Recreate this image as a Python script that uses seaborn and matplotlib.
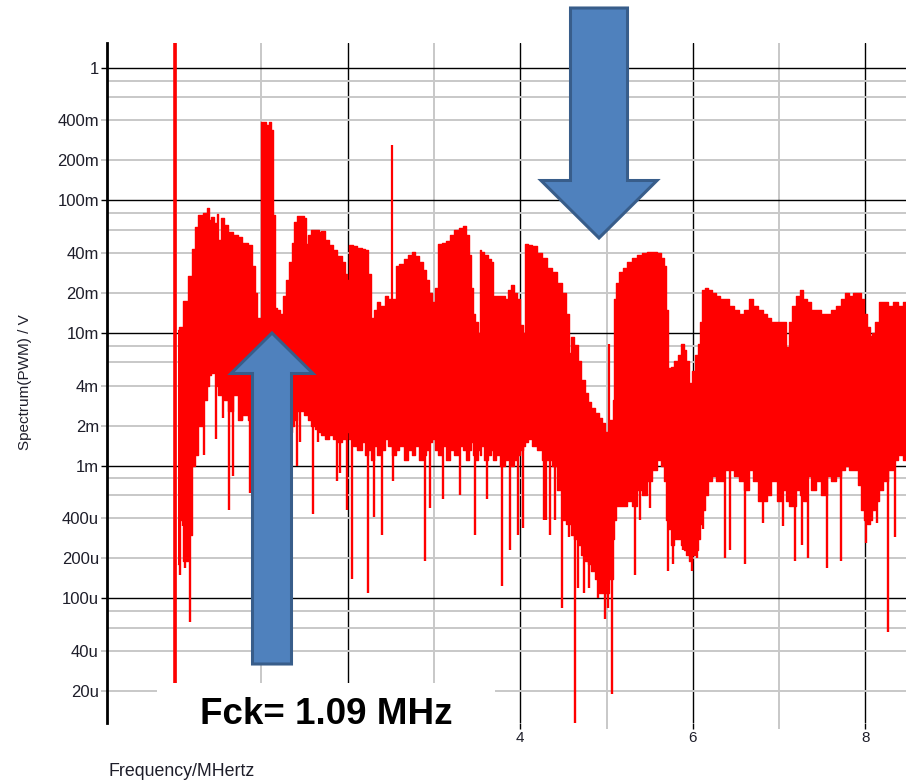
import numpy as np
import pandas as pd
import matplotlib
matplotlib.use("Agg")
import matplotlib.pyplot as plt
import seaborn as sns
from matplotlib.patches import Polygon, Rectangle
from matplotlib.ticker import FixedLocator, FixedFormatter

# ---------------- data ----------------
freq_mhz = [0.03, 0.06, 0.12, 0.18, 0.21, 0.25, 0.29, 0.35, 0.38, 0.41, 0.43, 0.47, 0.49, 0.51, 0.55,
            0.59, 0.63, 0.71, 0.75, 0.81, 0.87, 0.91, 0.94, 0.96, 0.99, 1.00, 1.03, 1.07, 1.10, 1.12,
            1.15, 1.17, 1.19, 1.23, 1.26, 1.30, 1.33, 1.37, 1.39, 1.43, 1.47, 1.51, 1.53, 1.55, 1.60,
            1.65, 1.68, 1.71, 1.76, 1.80, 1.85, 1.91, 1.95, 1.98, 2.00, 2.04, 2.08, 2.14, 2.19, 2.22,
            2.26, 2.29, 2.33, 2.35, 2.41, 2.45, 2.49, 2.54, 2.57, 2.63, 2.67, 2.72, 2.76, 2.80, 2.86,
            2.89, 2.93, 2.96, 2.99, 3.03, 3.07, 3.11, 3.16, 3.21, 3.26, 3.31, 3.36, 3.39, 3.41, 3.44,
            3.46, 3.49, 3.52, 3.54, 3.56, 3.61, 3.64, 3.67, 3.69, 3.74, 3.80, 3.84, 3.88, 3.91, 3.95,
            3.98, 4.02, 4.05, 4.07, 4.12, 4.16, 4.22, 4.28, 4.34, 4.40, 4.46, 4.51, 4.55, 4.57, 4.60,
            4.64, 4.69, 4.72, 4.77, 4.80, 4.85, 4.89, 4.93, 4.96, 5.00, 5.06, 5.08, 5.10, 5.12, 5.16,
            5.21, 5.26, 5.32, 5.38, 5.44, 5.50, 5.55, 5.61, 5.66, 5.68, 5.70, 5.73, 5.76, 5.81, 5.85,
            5.88, 5.91, 5.94, 5.97, 6.01, 6.04, 6.07, 6.10, 6.12, 6.15, 6.20, 6.24, 6.29, 6.33, 6.39,
            6.45, 6.50, 6.56, 6.63, 6.67, 6.73, 6.79, 6.84, 6.88, 6.94, 7.00, 7.06, 7.09, 7.13, 7.17,
            7.23, 7.25, 7.30, 7.34, 7.40, 7.46, 7.52, 7.58, 7.63, 7.69, 7.74, 7.78, 7.83, 7.89, 7.93,
            7.97, 8.00, 8.04, 8.06, 8.10, 8.13, 8.18, 8.23, 8.29, 8.35, 8.41, 8.47]

upper_v = [0.0105, 0.011, 0.0175, 0.027, 0.043, 0.063, 0.077, 0.080, 0.087, 0.071, 0.075, 0.068, 0.079, 0.050, 0.073,
           0.065, 0.058, 0.055, 0.053, 0.048, 0.046, 0.032, 0.020, 0.013, 0.013, 0.39, 0.39, 0.37, 0.39, 0.34,
           0.077, 0.0155, 0.015, 0.014, 0.019, 0.025, 0.034, 0.048, 0.069, 0.076, 0.076, 0.073, 0.047, 0.055, 0.060,
           0.060, 0.058, 0.059, 0.050, 0.046, 0.042, 0.038, 0.034, 0.028, 0.025, 0.046, 0.045, 0.044, 0.043, 0.042,
           0.028, 0.013, 0.015, 0.017, 0.016, 0.019, 0.018, 0.018, 0.032, 0.033, 0.036, 0.039, 0.041, 0.038, 0.034,
           0.030, 0.025, 0.020, 0.017, 0.022, 0.047, 0.048, 0.049, 0.055, 0.060, 0.062, 0.064, 0.055, 0.039, 0.022,
           0.014, 0.012, 0.010, 0.042, 0.041, 0.039, 0.036, 0.034, 0.019, 0.019, 0.019, 0.018, 0.021, 0.023, 0.020,
           0.018, 0.0114, 0.010, 0.047, 0.046, 0.045, 0.040, 0.037, 0.031, 0.029, 0.024, 0.020, 0.014, 0.0071, 0.0093,
           0.0081, 0.0062, 0.0044, 0.0035, 0.0030, 0.0027, 0.0025, 0.0023, 0.0021, 0.0018, 0.0022, 0.0031, 0.018, 0.024, 0.029,
           0.031, 0.034, 0.037, 0.039, 0.040, 0.041, 0.041, 0.040, 0.037, 0.032, 0.015, 0.0054, 0.0055, 0.0062, 0.0068,
           0.0083, 0.0075, 0.0062, 0.0042, 0.0052, 0.0068, 0.0083, 0.012, 0.021, 0.022, 0.021, 0.020, 0.019, 0.018, 0.018,
           0.016, 0.015, 0.014, 0.015, 0.018, 0.016, 0.015, 0.014, 0.013, 0.012, 0.012, 0.012, 0.0078, 0.012, 0.016,
           0.019, 0.021, 0.018, 0.017, 0.015, 0.015, 0.014, 0.014, 0.015, 0.016, 0.018, 0.020, 0.019, 0.020, 0.020,
           0.018, 0.014, 0.011, 0.0095, 0.010, 0.012, 0.017, 0.017, 0.016, 0.017, 0.016, 0.017]

lower_v = [0.00018, 0.00039, 0.00019, 0.0003, 0.0010, 0.0012, 0.0020, 0.0031, 0.0040, 0.0048, 0.0050, 0.0052, 0.0040, 0.0034, 0.0034,
           0.0031, 0.0026, 0.0034, 0.0022, 0.0024, 0.0022, 0.0018, 0.0018, 0.0018, 0.0018, 0.0018, 0.0018, 0.0018, 0.0018, 0.0018,
           0.0018, 0.0018, 0.0018, 0.0018, 0.0018, 0.0018, 0.0018, 0.0020, 0.0022, 0.0026, 0.0026, 0.0024, 0.0024, 0.0022, 0.0020,
           0.0019, 0.0018, 0.0017, 0.0016, 0.0017, 0.0016, 0.0015, 0.0016, 0.0016, 0.0018, 0.0016, 0.0014, 0.0013, 0.0015, 0.0012,
           0.0013, 0.0011, 0.0014, 0.0012, 0.0013, 0.0016, 0.0014, 0.0012, 0.0013, 0.0014, 0.0011, 0.0013, 0.0012, 0.0014, 0.0011,
           0.0012, 0.0013, 0.0015, 0.0016, 0.0013, 0.0012, 0.0014, 0.0011, 0.0013, 0.0012, 0.0014, 0.0013, 0.0011, 0.0013, 0.0015,
           0.0012, 0.0011, 0.0013, 0.0012, 0.0014, 0.0011, 0.0012, 0.0013, 0.0011, 0.0012, 0.0010, 0.0011, 0.0012, 0.0010, 0.0011,
           0.0012, 0.0013, 0.0014, 0.0015, 0.0016, 0.0014, 0.0013, 0.0011, 0.0011, 0.0010, 0.00065, 0.00039, 0.00036, 0.00036, 0.00030,
           0.00028, 0.00025, 0.00021, 0.00019, 0.00018, 0.00016, 0.00014, 0.00011, 0.00011, 0.00011, 0.00014, 0.00028, 0.00039, 0.00050, 0.00050,
           0.00050, 0.00054, 0.00050, 0.00065, 0.00060, 0.00077, 0.00092, 0.0011, 0.0010, 0.00077, 0.00039, 0.00033, 0.00025, 0.00028, 0.00028,
           0.00025, 0.00023, 0.00021, 0.00019, 0.00021, 0.00023, 0.00028, 0.00036, 0.00046, 0.00060, 0.00077, 0.00084, 0.00077, 0.00077, 0.00092,
           0.00092, 0.00084, 0.00077, 0.00065, 0.00092, 0.00077, 0.00054, 0.00054, 0.00060, 0.00077, 0.00054, 0.00065, 0.00054, 0.00050, 0.00050,
           0.00065, 0.00060, 0.00054, 0.00084, 0.00065, 0.00077, 0.00060, 0.00084, 0.00077, 0.00084, 0.00092, 0.0010, 0.00092, 0.00092, 0.00071,
           0.00046, 0.00039, 0.00036, 0.00039, 0.00046, 0.00054, 0.00065, 0.00077, 0.00092, 0.0011, 0.0012, 0.0011]

# narrow downward spikes below the band
spike_freq = [0.06, 0.09, 0.12, 0.17, 0.21, 0.33, 0.47, 0.55, 0.62, 0.67, 0.78, 0.87, 1.41, 1.45, 1.60,
              1.65, 1.74, 1.88, 1.91, 1.99, 2.05, 2.23,
              2.31, 2.40, 2.52, 2.89, 2.95, 3.10, 3.30, 3.47, 3.61, 3.79, 3.88, 3.97, 4.03, 4.28, 4.30,
              4.34, 4.40, 4.48, 4.57, 4.63, 4.67, 4.74, 4.80, 4.90, 4.98, 5.02, 5.06, 5.33, 5.39, 5.50,
              5.71, 5.77, 5.88, 5.99, 6.05, 6.12, 6.37, 6.43, 6.60, 6.81, 7.04, 7.18, 7.27, 7.33, 7.56,
              7.72, 8.01, 8.13, 8.26, 8.34]
spike_min = [0.00015, 0.00039, 0.00017, 0.000066, 0.0010, 0.0012, 0.0016, 0.0023, 0.00046, 0.00083, 0.0022, 0.00062, 0.00099, 0.0015, 0.00043,
             0.0015, 0.0017, 0.00077, 0.00088, 0.00046, 0.00014, 0.00011,
             0.00041, 0.0003, 0.00077, 0.00019, 0.00048, 0.00056, 0.0006, 0.0003, 0.00056, 0.000124, 0.00023, 0.0003, 0.00034, 0.00039, 0.00039,
             0.0003, 0.00039, 0.000085, 0.00029, 0.00001, 0.00012, 0.00011, 0.00012, 0.0001, 0.00007, 0.000085, 0.000019, 0.00015, 0.00039, 0.00048,
             0.00016, 0.00018, 0.00023, 0.00016, 0.0002, 0.00033, 0.0002, 0.00023, 0.00018, 0.00037, 0.00035, 0.00019, 0.00025, 0.0002, 0.00017,
             0.00019, 0.00026, 0.00037, 0.000056, 0.00029]

# narrow upward peaks (DC line, 2.5 MHz line, 5 MHz line)
peak_freq = [0.0, 2.51, 5.03]
peak_top = [2.0, 0.26, 0.0083]
peak_base = [2.3e-5, 0.018, 0.0018]

xtick_major = [0, 2, 4, 6, 8]
xtick_major_labels = ["0", "2", "4", "6", "8"]
xtick_minor = [1, 3, 5, 7]
ytick_major = [1e-4, 1e-3, 1e-2, 1e-1, 1]
ytick_major_labels = ["100u", "1m", "10m", "100m", "1"]
ytick_minor = [2e-5, 4e-5, 2e-4, 4e-4, 2e-3, 4e-3, 2e-2, 4e-2, 0.2, 0.4]
ytick_minor_labels = ["20u", "40u", "200u", "400u", "2m", "4m", "20m", "40m", "200m", "400m"]
ygrid_extra = [6e-5, 8e-5, 6e-4, 8e-4, 6e-3, 8e-3, 6e-2, 8e-2, 0.6, 0.8]

annotation = "Fck= 1.09 MHz"
x_label = "Frequency/MHertz"
y_label = "Spectrum(PWM) / V"

# ---------------- drawing ----------------
sns.set_style("white")
plt.rcParams["font.family"] = ["Liberation Sans", "DejaVu Sans"]

W, H = 906, 780
fig = plt.figure(figsize=(W / 100, H / 100), dpi=100)
ax = fig.add_axes([107.3 / W, 1 - 723 / H, (W - 107.3) / W, (723 - 43) / H])

RED = "#FF0000"
df = pd.DataFrame({"freq": freq_mhz, "upper": upper_v, "lower": lower_v})

ax.fill_between(df["freq"], df["lower"], df["upper"], step="mid", color=RED, lw=0, zorder=3)
sns.lineplot(data=df, x="freq", y="upper", drawstyle="steps-mid", color=RED, lw=1.0,
             estimator=None, sort=False, ax=ax, zorder=3)
sns.lineplot(data=df, x="freq", y="lower", drawstyle="steps-mid", color=RED, lw=1.0,
             estimator=None, sort=False, ax=ax, zorder=3)

spike_top = np.interp(spike_freq, freq_mhz, lower_v) * 1.2
ax.vlines(spike_freq, spike_min, spike_top, color=RED, lw=1.7, zorder=3)
ax.vlines(peak_freq, peak_base, peak_top, color=RED, lw=[2.6, 1.6, 1.6], zorder=3)

ax.set_yscale("log")
ax.set_xlim(-0.786, 8.47)
ax.set_ylim(1.146e-5, 1.536)

ax.xaxis.set_major_locator(FixedLocator(xtick_major))
ax.xaxis.set_major_formatter(FixedFormatter(xtick_major_labels))
ax.xaxis.set_minor_locator(FixedLocator(xtick_minor))
ax.yaxis.set_major_locator(FixedLocator(ytick_major))
ax.yaxis.set_major_formatter(FixedFormatter(ytick_major_labels))
ax.yaxis.set_minor_locator(FixedLocator(ytick_minor))
ax.yaxis.set_minor_formatter(FixedFormatter(ytick_minor_labels))

ax.grid(which="major", color="black", lw=1.0, zorder=1)
ax.grid(which="minor", color="#C8C8C8", lw=1.4, zorder=1)
for yv in ygrid_extra:
    ax.axhline(yv, color="#C8C8C8", lw=1.4, zorder=1)
ax.set_axisbelow(True)

ax.tick_params(axis="y", which="both", left=True, length=4, pad=2, labelsize=12, labelcolor="#1e1e2a")
ax.tick_params(axis="y", which="major", color="black", width=1.0)
ax.tick_params(axis="y", which="minor", color="#C8C8C8", width=1.4)
ax.tick_params(axis="x", which="both", bottom=True, length=4, pad=2, labelsize=11, labelcolor="#1e1e2a")
ax.tick_params(axis="x", which="major", color="black", width=1.0)
ax.tick_params(axis="x", which="minor", color="#C8C8C8", width=1.4)

for s in ["top", "right", "bottom"]:
    ax.spines[s].set_visible(False)
ax.spines["left"].set_color("black")
ax.spines["left"].set_linewidth(2.0)
ax.set_xlabel("")
ax.set_ylabel("")

fig.text(108 / W, 1 - 771 / H, x_label, ha="left", va="center", fontsize=12.8, color="#1e1e2a")
fig.text(25.5 / W, 1 - 382 / H, y_label, ha="center", va="center", rotation=90, fontsize=11, color="#1e1e2a")


def fig_pts(pts):
    return [(x / W, 1 - y / H) for x, y in pts]


# white label box with the annotation text
fig.patches.append(Rectangle((157 / W, 1 - 755 / H), (495 - 157) / W, (755 - 683) / H,
                             transform=fig.transFigure, facecolor="white", edgecolor="none", zorder=5))
fig.text(326 / W, 1 - 714 / H, annotation, ha="center", va="center", fontsize=26.5,
         fontweight="bold", color="black", zorder=6)

# block arrows
FILL = "#4F81BD"
EDGE = "#385D8A"
up_arrow = [(252.5, 664), (252.5, 373.5), (231, 373.5), (272, 333), (313, 373.5), (291.5, 373.5), (291.5, 664)]
down_arrow = [(570.5, 8), (570.5, 180.5), (541, 180.5), (599, 238), (657, 180.5), (627.5, 180.5), (627.5, 8)]
for shape in (up_arrow, down_arrow):
    fig.patches.append(Polygon(fig_pts(shape), closed=True, transform=fig.transFigure,
                               facecolor=FILL, edgecolor=EDGE, lw=2.2, joinstyle="miter", zorder=7))

fig.savefig("out.png", dpi=100)
